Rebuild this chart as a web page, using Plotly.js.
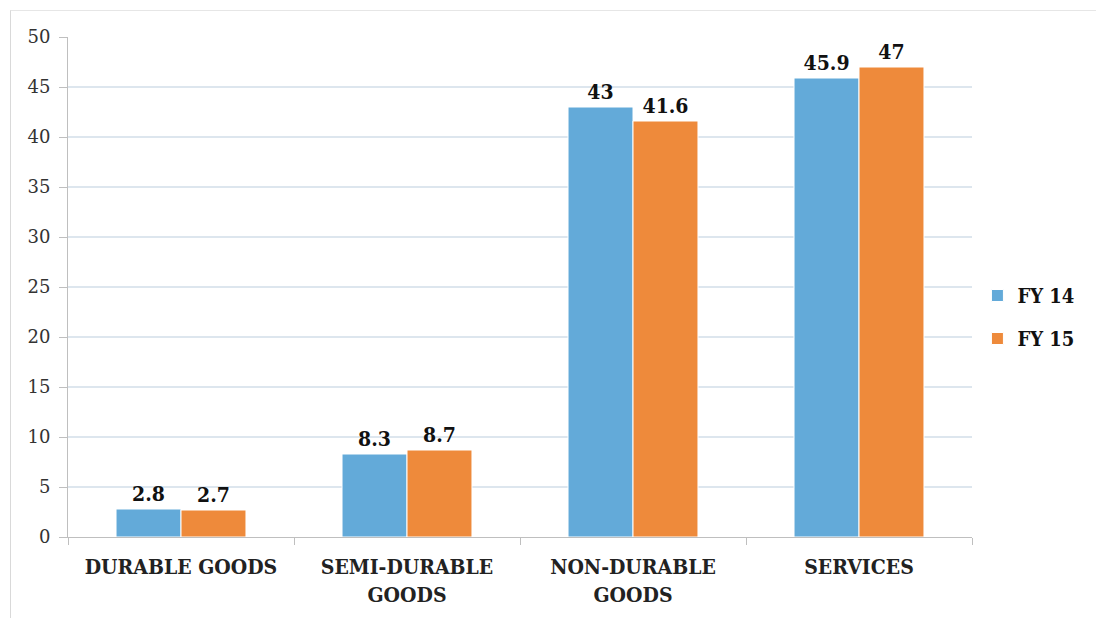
<!DOCTYPE html>
<html>
<head>
<meta charset="utf-8">
<script src="https://cdn.plot.ly/plotly-3.0.1.min.js"></script>
<style>
  html, body { margin: 0; padding: 0; background: #ffffff; }
  #frame { position: absolute; left: 10px; top: 10px; right: 0; bottom: 0;
           border-left: 1px solid #d9d9d9; border-top: 1px solid #e6e6e6; }
  #chart { position: absolute; left: 0; top: 0; width: 1096px; height: 618px; }
</style>
</head>
<body>
<div id="frame"></div>
<div id="chart"></div>
<script>
// Share of consumption expenditure by category, FY 14 vs FY 15
const categories = ["DURABLE GOODS", "SEMI-DURABLE<br>GOODS", "NON-DURABLE<br>GOODS", "SERVICES"];
const fy14 = [2.8, 8.3, 43, 45.9];
const fy15 = [2.7, 8.7, 41.6, 47];
const seriesNames = ["FY 14", "FY 15"];
const yTicks = [0, 5, 10, 15, 20, 25, 30, 35, 40, 45, 50];

const serif = "DejaVu Serif";
const serifNarrow = "DejaVu Serif Condensed, DejaVu Serif";
const labelFont = { family: serifNarrow, size: 21, color: "#111111", weight: "bold" };

function barTrace(name, values, color) {
  return {
    type: "bar",
    name: name,
    legendgroup: name,
    x: categories,
    y: values,
    marker: { color: color, line: { color: "#ffffff", width: 1 } },
    text: values.map(String),
    textposition: "outside",
    textfont: labelFont,
    cliponaxis: false,
    hoverinfo: "x+y+name"
  };
}

const data = [
  barTrace(seriesNames[0], fy14, "#63aad9"),
  barTrace(seriesNames[1], fy15, "#ee8a3b")
];

const layout = {
  width: 1096,
  height: 618,
  margin: { l: 68, r: 124, t: 37, b: 81, pad: 0 },
  paper_bgcolor: "rgba(0,0,0,0)",
  plot_bgcolor: "rgba(0,0,0,0)",
  barmode: "group",
  bargap: 0.425,
  bargroupgap: 0,
  showlegend: true,
  legend: {
    x: 1.006, xanchor: "left",
    y: 0.44, yanchor: "middle",
    traceorder: "grouped",
    tracegroupgap: 14,
    font: { family: serifNarrow, size: 20, color: "#111111", weight: "bold" },
    itemwidth: 30,
    bgcolor: "rgba(0,0,0,0)"
  },
  xaxis: {
    type: "category",
    showgrid: false,
    showline: true,
    linecolor: "#bfbfbf",
    linewidth: 1,
    ticks: "outside",
    tickson: "boundaries",
    ticklen: 7,
    tickcolor: "#bfbfbf",
    ticklabelstandoff: 11,
    tickfont: { family: serifNarrow, size: 21, color: "#222222", weight: "bold" },
    automargin: false
  },
  yaxis: {
    range: [0, 50],
    tickvals: yTicks,
    ticktext: yTicks.map(String),
    showgrid: true,
    gridcolor: "#dde6ee",
    gridwidth: 2,
    showline: true,
    linecolor: "#bfbfbf",
    linewidth: 1,
    ticks: "outside",
    ticklen: 8,
    tickcolor: "#bfbfbf",
    ticklabelstandoff: 5,
    tickfont: { family: serif, size: 18, color: "#333333" },
    zeroline: false,
    automargin: false
  }
};

Plotly.newPlot("chart", data, layout, { displayModeBar: false, staticPlot: true });
</script>
</body>
</html>
